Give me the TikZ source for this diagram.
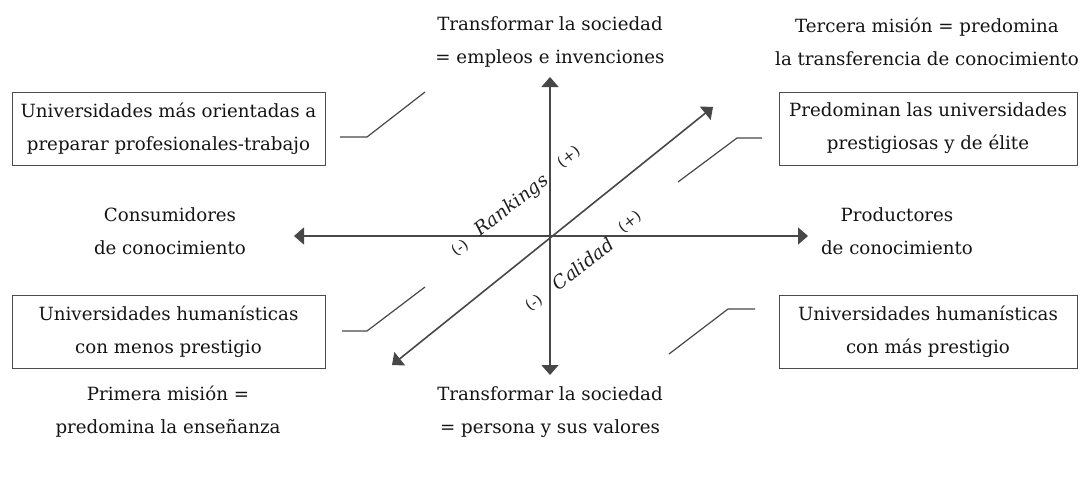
\documentclass[tikz,border=0pt]{standalone}
\usepackage{fontspec}
\setmainfont{DejaVu Serif}
\usetikzlibrary{arrows.meta}
\begin{document}
\begin{tikzpicture}[x=1pt,y=-1pt,
  txt/.style={font=\fontsize{18.2}{33}\selectfont, align=center, text=black!92, inner sep=0pt},
  box/.style={txt, draw=black!70, line width=1pt, minimum height=73pt},
  axis/.style={draw=black!72, line width=1.6pt, {Triangle[length=10pt,width=17pt]}-{Triangle[length=10pt,width=17pt]}},
  leader/.style={draw=black!72, line width=1.2pt},
  lab/.style={font=\itshape\fontsize{18.5}{20}\selectfont, rotate=38, inner sep=0pt, text=black!88},
  sgn/.style={font=\fontsize{15}{16}\selectfont, rotate=38, inner sep=0pt, text=black!88},
]
\useasboundingbox (0,0) rectangle (1081,495);
% axes
\coordinate (T) at (550,77);
\coordinate (B) at (550,375);
\coordinate (L) at (294,236);
\coordinate (R) at (808,236);
\coordinate (UR) at (713,107);
\coordinate (LL) at (392,365);
\draw[axis] (B) -- (T);
\draw[axis] (L) -- (R);
\draw[axis] (LL) -- (UR);
% boxes
\node[box, minimum width=313pt] (tl) at (168.5,128.5) {Universidades más orientadas a\\preparar profesionales-trabajo};
\node[box, minimum width=298pt] (tr) at (928,128.5) {Predominan las universidades\\prestigiosas y de élite};
\node[box, minimum width=313pt] (bl) at (168.5,331.5) {Universidades humanísticas\\con menos prestigio};
\node[box, minimum width=298pt] (br) at (928,331.5) {Universidades humanísticas\\con más prestigio};
% texts
\node[txt] (top) at (550,42) {Transformar la sociedad\\= empleos e invenciones};
\node[txt] (tm) at (927,42) {Tercera misión = predomina\\la transferencia de conocimiento};
\node[txt] (cons) at (170,231) {Consumidores\\de conocimiento};
\node[txt] (prod) at (897,231) {Productores\\de conocimiento};
\node[txt] (pm) at (168,412) {Primera misión =\\predomina la enseñanza};
\node[txt] (bot) at (550,412) {Transformar la sociedad\\= persona y sus valores};
% rotated labels
\node[lab] (rk) at (512,206) {Rankings};
\node[lab] (cal) at (583,264) {Calidad};
\node[sgn] (p1) at (569,157) {(+)};
\node[sgn] (p2) at (630,222) {(+)};
\node[sgn] (m1) at (460,248) {(-)};
\node[sgn] (m2) at (534,303) {(-)};
% leaders
\coordinate (a1) at (340,137); \coordinate (a2) at (367,137); \coordinate (a3) at (425,92);
\coordinate (b1) at (762,138); \coordinate (b2) at (737,138); \coordinate (b3) at (678,182);
\coordinate (c1) at (342,331); \coordinate (c2) at (367,331); \coordinate (c3) at (425,287);
\coordinate (d1) at (755,309); \coordinate (d2) at (728,309); \coordinate (d3) at (669,354);
\draw[leader] (a1) -- (a2) -- (a3);
\draw[leader] (b1) -- (b2) -- (b3);
\draw[leader] (c1) -- (c2) -- (c3);
\draw[leader] (d1) -- (d2) -- (d3);
\end{tikzpicture}
\end{document}
